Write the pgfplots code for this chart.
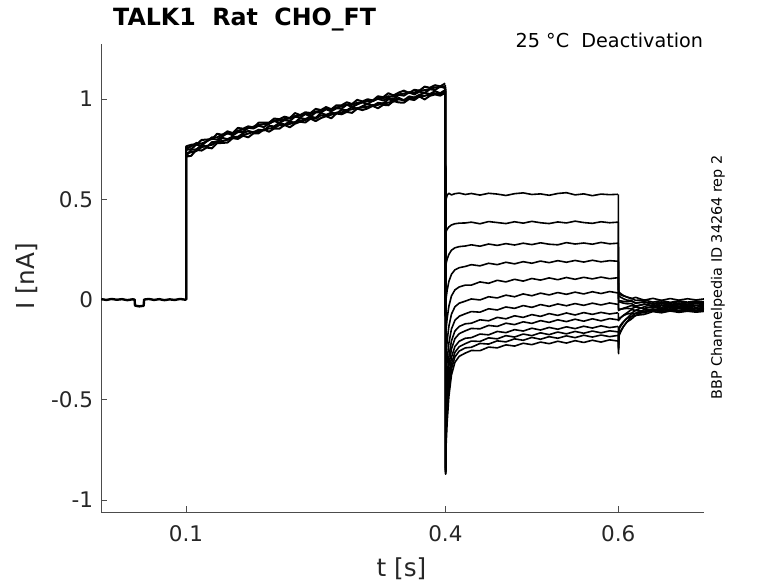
\documentclass[border=0pt]{standalone}
\usepackage{fontspec}
\setmainfont{DejaVu Sans}
\usepackage{pgfplots}
\usepackage{pgfplotstable}
\pgfplotsset{compat=1.18}
\newcommand\fs[1]{\fontsize{#1}{#1}\selectfont}
\definecolor{axgray}{HTML}{262626}

\pgfplotstableread{
t y
0.002 0.002
0.008 -0.002
0.014 0.003
0.020 -0.001
0.026 0.002
0.032 -0.003
0.038 0.001
0.0405 0.000
0.041 -0.030
0.046 -0.034
0.051 -0.031
0.0515 0.000
0.057 0.003
0.063 -0.002
0.069 0.002
0.075 -0.003
0.081 0.001
0.087 -0.002
0.093 0.003
0.0995 -0.001
0.1 0.0
}\base

\pgfplotstableread{
t a b c d e f
0.1000 0.000 0.000 0.000 0.000 0.000 0.000
0.1002 0.713 0.717 0.747 0.764 0.728 0.752
0.106 0.717 0.747 0.750 0.772 0.735 0.764
0.112 0.747 0.749 0.773 0.773 0.741 0.781
0.118 0.743 0.771 0.767 0.796 0.760 0.778
0.124 0.758 0.760 0.790 0.798 0.766 0.789
0.130 0.754 0.785 0.803 0.800 0.772 0.809
0.136 0.780 0.786 0.797 0.827 0.788 0.809
0.142 0.781 0.806 0.814 0.821 0.790 0.823
0.148 0.783 0.800 0.830 0.839 0.797 0.828
0.154 0.805 0.813 0.819 0.830 0.806 0.829
0.160 0.801 0.810 0.835 0.856 0.812 0.842
0.166 0.817 0.830 0.837 0.852 0.820 0.849
0.172 0.809 0.841 0.857 0.864 0.828 0.855
0.178 0.829 0.834 0.853 0.858 0.836 0.862
0.184 0.829 0.847 0.867 0.882 0.835 0.870
0.190 0.849 0.843 0.860 0.882 0.848 0.875
0.196 0.837 0.865 0.878 0.882 0.853 0.876
0.202 0.853 0.864 0.890 0.903 0.856 0.893
0.208 0.852 0.881 0.882 0.899 0.870 0.894
0.214 0.871 0.873 0.895 0.912 0.869 0.900
0.220 0.859 0.887 0.890 0.905 0.876 0.903
0.226 0.877 0.882 0.912 0.930 0.885 0.915
0.232 0.887 0.906 0.908 0.920 0.893 0.918
0.238 0.883 0.900 0.925 0.934 0.896 0.926
0.244 0.902 0.913 0.913 0.930 0.905 0.925
0.250 0.890 0.906 0.933 0.951 0.902 0.937
0.256 0.905 0.930 0.933 0.945 0.919 0.942
0.262 0.915 0.921 0.949 0.960 0.914 0.950
0.268 0.904 0.932 0.939 0.949 0.922 0.948
0.274 0.928 0.927 0.954 0.969 0.932 0.958
0.280 0.924 0.947 0.952 0.969 0.933 0.963
0.286 0.936 0.944 0.972 0.984 0.944 0.973
0.292 0.931 0.960 0.960 0.975 0.949 0.971
0.298 0.952 0.951 0.973 0.996 0.955 0.981
0.304 0.945 0.964 0.984 0.988 0.958 0.983
0.310 0.953 0.977 0.974 0.999 0.962 0.990
0.316 0.966 0.965 0.992 0.993 0.970 0.989
0.322 0.954 0.981 1.001 1.014 0.971 1.004
0.328 0.971 0.978 0.993 1.009 0.979 1.004
0.334 0.969 0.999 1.006 1.029 0.982 1.014
0.340 0.990 0.992 0.999 1.018 0.988 1.012
0.346 0.983 1.006 1.021 1.032 0.999 1.023
0.352 0.982 0.994 1.017 1.042 0.993 1.027
0.358 1.000 1.013 1.033 1.030 1.005 1.034
0.364 0.995 1.008 1.023 1.046 1.004 1.032
0.370 1.013 1.021 1.037 1.042 1.014 1.043
0.376 0.998 1.031 1.030 1.062 1.016 1.044
0.382 1.016 1.025 1.049 1.056 1.023 1.050
0.388 1.023 1.039 1.045 1.069 1.028 1.058
0.394 1.017 1.029 1.063 1.063 1.025 1.059
0.3998 1.031 1.045 1.054 1.078 1.040 1.064
}\step

\pgfplotstableread{
t k1 k2 k3 k4 k5 k6 k7 k8 k9 k10 k11 k12 k13
0.4 1.05 1.04 1.06 1.05 1.04 1.06 1.05 1.04 1.07 1.05 1.06 1.04 1.05
0.4003 -0.86 -0.84 -0.85 -0.86 -0.85 -0.86 -0.87 -0.85 -0.86 -0.84 -0.87 -0.85 -0.87
0.4008 0.500 0.339 0.179 0.006 -0.149 -0.273 -0.380 -0.472 -0.525 -0.588 -0.639 -0.678 -0.728
0.402 0.520 0.350 0.201 0.045 -0.095 -0.208 -0.304 -0.385 -0.434 -0.490 -0.535 -0.570 -0.614
0.404 0.530 0.362 0.225 0.090 -0.034 -0.134 -0.218 -0.287 -0.332 -0.380 -0.418 -0.447 -0.484
0.407 0.522 0.372 0.246 0.126 0.018 -0.073 -0.147 -0.206 -0.246 -0.288 -0.321 -0.346 -0.377
0.411 0.528 0.378 0.258 0.148 0.048 -0.036 -0.104 -0.157 -0.195 -0.234 -0.263 -0.286 -0.313
0.416 0.531 0.381 0.264 0.159 0.063 -0.018 -0.083 -0.134 -0.170 -0.208 -0.235 -0.257 -0.283
0.423 0.524 0.382 0.267 0.165 0.072 -0.008 -0.071 -0.121 -0.156 -0.193 -0.220 -0.241 -0.267
0.43 0.529 0.386 0.273 0.174 0.072 0.003 -0.060 -0.118 -0.144 -0.190 -0.207 -0.238 -0.254
0.44 0.521 0.378 0.266 0.168 0.088 -0.002 -0.063 -0.101 -0.146 -0.172 -0.209 -0.219 -0.255
0.45 0.530 0.389 0.277 0.181 0.081 0.014 -0.046 -0.106 -0.129 -0.176 -0.191 -0.222 -0.237
0.46 0.526 0.384 0.270 0.174 0.096 0.008 -0.052 -0.089 -0.134 -0.159 -0.196 -0.206 -0.241
0.47 0.519 0.379 0.279 0.186 0.088 0.022 -0.037 -0.096 -0.118 -0.165 -0.180 -0.211 -0.226
0.48 0.528 0.388 0.272 0.178 0.101 0.014 -0.044 -0.081 -0.125 -0.150 -0.187 -0.196 -0.232
0.49 0.532 0.381 0.281 0.189 0.092 0.028 -0.030 -0.089 -0.111 -0.157 -0.172 -0.203 -0.218
0.50 0.524 0.390 0.274 0.181 0.105 0.019 -0.039 -0.075 -0.119 -0.143 -0.180 -0.189 -0.225
0.51 0.527 0.383 0.283 0.192 0.097 0.032 -0.025 -0.084 -0.105 -0.152 -0.166 -0.198 -0.212
0.52 0.520 0.379 0.276 0.184 0.108 0.023 -0.034 -0.070 -0.114 -0.139 -0.175 -0.185 -0.220
0.53 0.529 0.387 0.273 0.194 0.099 0.035 -0.022 -0.079 -0.101 -0.148 -0.162 -0.193 -0.208
0.54 0.533 0.382 0.284 0.186 0.110 0.026 -0.031 -0.067 -0.110 -0.136 -0.171 -0.181 -0.217
0.55 0.522 0.391 0.277 0.195 0.101 0.037 -0.020 -0.077 -0.098 -0.145 -0.159 -0.190 -0.205
0.56 0.527 0.384 0.282 0.187 0.111 0.028 -0.029 -0.065 -0.108 -0.133 -0.168 -0.178 -0.214
0.57 0.518 0.380 0.276 0.196 0.103 0.039 -0.018 -0.074 -0.096 -0.142 -0.157 -0.187 -0.203
0.58 0.526 0.388 0.285 0.188 0.112 0.030 -0.027 -0.064 -0.106 -0.131 -0.166 -0.177 -0.212
0.59 0.523 0.383 0.278 0.194 0.104 0.040 -0.017 -0.072 -0.095 -0.140 -0.156 -0.185 -0.201
0.5995 0.525 0.386 0.281 0.191 0.109 0.033 -0.024 -0.066 -0.101 -0.134 -0.161 -0.179 -0.207
}\tail

\pgfplotstableread{
t k1 k2 k3 k4 k5 k6 k7 k8 k9 k10 k11 k12 k13
0.6 0.525 0.386 0.281 0.191 0.109 0.033 -0.024 -0.066 -0.101 -0.134 -0.161 -0.179 -0.207
0.6003 0.040 0.020 0.030 -0.010 -0.005 -0.050 -0.055 -0.100 -0.105 -0.220 -0.240 -0.250 -0.270
0.6008 0.037 0.017 0.028 -0.011 -0.006 -0.049 -0.053 -0.097 -0.101 -0.139 -0.148 -0.172 -0.181
0.603 0.029 0.011 0.023 -0.014 -0.007 -0.048 -0.048 -0.089 -0.090 -0.125 -0.131 -0.154 -0.159
0.606 0.020 0.004 0.018 -0.018 -0.009 -0.046 -0.043 -0.080 -0.078 -0.110 -0.112 -0.133 -0.135
0.61 0.012 -0.003 0.013 -0.021 -0.011 -0.044 -0.038 -0.072 -0.066 -0.094 -0.093 -0.112 -0.111
0.615 0.007 -0.005 0.004 -0.020 -0.008 -0.046 -0.030 -0.068 -0.051 -0.085 -0.072 -0.098 -0.086
0.62 -0.004 -0.017 0.011 -0.032 -0.018 -0.037 -0.035 -0.055 -0.053 -0.068 -0.069 -0.079 -0.080
0.63 -0.002 -0.012 -0.003 -0.024 -0.011 -0.045 -0.022 -0.059 -0.036 -0.066 -0.050 -0.074 -0.058
0.64 -0.013 -0.024 0.006 -0.035 -0.020 -0.036 -0.031 -0.047 -0.042 -0.053 -0.053 -0.060 -0.058
0.65 -0.005 -0.015 -0.004 -0.027 -0.012 -0.044 -0.020 -0.055 -0.031 -0.061 -0.041 -0.066 -0.047
0.66 -0.014 -0.025 0.005 -0.034 -0.019 -0.037 -0.029 -0.046 -0.039 -0.052 -0.049 -0.057 -0.053
0.67 -0.006 -0.017 -0.003 -0.026 -0.010 -0.043 -0.021 -0.054 -0.032 -0.059 -0.040 -0.064 -0.045
0.68 -0.013 -0.023 0.004 -0.033 -0.017 -0.038 -0.028 -0.047 -0.038 -0.051 -0.047 -0.058 -0.052
0.69 -0.007 -0.016 -0.002 -0.028 -0.013 -0.045 -0.020 -0.053 -0.031 -0.058 -0.041 -0.063 -0.046
0.699 -0.011 -0.021 0.003 -0.031 -0.016 -0.039 -0.026 -0.048 -0.036 -0.054 -0.046 -0.059 -0.051
}\post

\pgfplotsset{tr/.style={black, line width=1.6bp, line join=round}}

\begin{document}
\begin{tikzpicture}
\begin{axis}[
  scale only axis, width=602.6bp, height=468.6bp,
  xmin=0.002, xmax=0.699, ymin=-1.061, ymax=1.276,
  axis lines*=left,
  axis line style={black!70, line width=0.8bp},
  tick style={black!70, line width=0.8bp},
  tick align=inside, major tick length=6bp,
  xtick={0.1,0.4,0.6}, xticklabels={0.1,0.4,0.6},
  ytick={-1,-0.5,0,0.5,1}, yticklabels={-1,-0.5,0,0.5,1},
  xticklabel style={font=\fs{21.5bp}, text=axgray, anchor=base, inner sep=0pt, yshift=-29.4bp},
  yticklabel style={font=\fs{21.5bp}, text=axgray, anchor=east, inner sep=0pt, xshift=-8bp},
  clip=false,
]
\addplot[tr, line width=2.4bp] table[x=t,y=y]{\base};
\addplot[tr, line width=2bp] table[x=t,y=a]{\step};
\addplot[tr, line width=2bp] table[x=t,y=b]{\step};
\addplot[tr, line width=2bp] table[x=t,y=c]{\step};
\addplot[tr, line width=2bp] table[x=t,y=d]{\step};
\addplot[tr, line width=2bp] table[x=t,y=e]{\step};
\addplot[tr, line width=2bp] table[x=t,y=f]{\step};
\pgfplotsinvokeforeach{1,...,13}{
  \addplot[tr] table[x=t,y=k#1]{\tail};
  \addplot[tr] table[x=t,y=k#1]{\post};
}
\end{axis}
\pgfresetboundingbox
\useasboundingbox (-101.3bp,-70.7bp) rectangle (676.7bp,512.3bp);
\node[anchor=base west, inner sep=0pt, font=\bfseries\fs{23.7bp}] at (11.7bp,486.3bp) {TALK1\ \ Rat\ \ CHO\_FT};
\node[anchor=base east, inner sep=0pt, font=\fs{19.2bp}] at (602bp,465bp) {25 °C\ \ Deactivation};
\node[rotate=90, anchor=base, inner sep=0pt, font=\fs{14.4bp}] at (620.5bp,234.8bp) {BBP Channelpedia ID 34264 rep 2};
\node[rotate=90, anchor=base, inner sep=0pt, text=axgray, font=\fs{24.7bp}] at (-66.3bp,235.8bp) {I [nA]};
\node[anchor=base, inner sep=0pt, text=axgray, font=\fs{24.7bp}] at (300.2bp,-64.5bp) {t [s]};
\end{tikzpicture}
\end{document}
